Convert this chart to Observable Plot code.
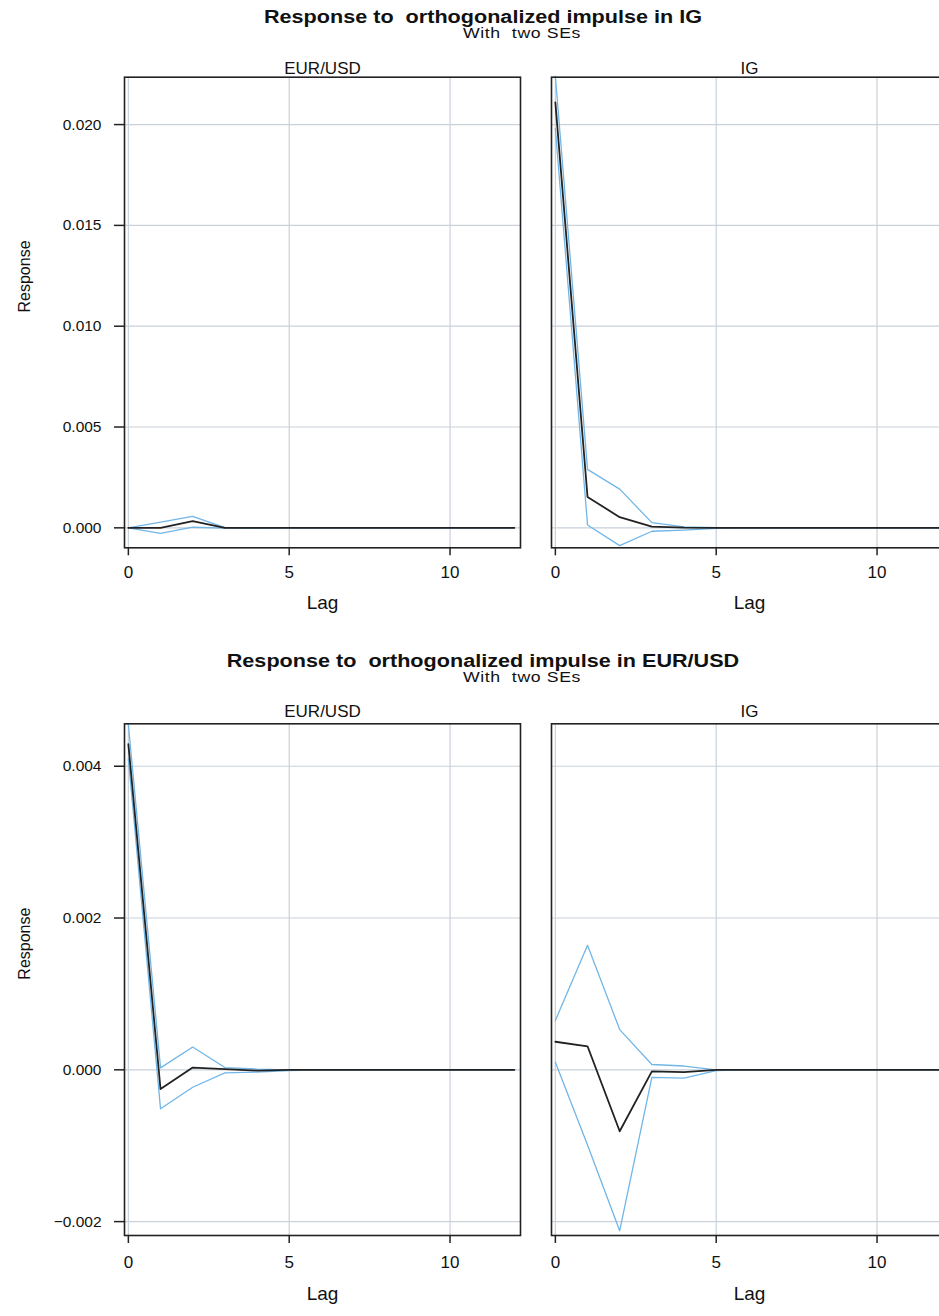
<!DOCTYPE html>
<html><head><meta charset="utf-8">
<script src="https://cdn.jsdelivr.net/npm/d3@7"></script>
<script src="https://cdn.jsdelivr.net/npm/@observablehq/plot@0.6"></script>
<style>
html,body{margin:0;padding:0;background:#fff;overflow:hidden;width:939px;height:1316px;}
#root{position:relative;width:939px;height:1316px;overflow:hidden;font-family:"Liberation Sans",Arial,sans-serif;color:#111;}
.title{position:absolute;left:0;text-align:center;font-weight:bold;font-size:18px;line-height:14px;white-space:pre;transform:scaleX(1.2);transform-origin:center;}
.sub{position:absolute;left:0;text-align:center;font-size:14.5px;line-height:11px;letter-spacing:0.5px;white-space:pre;transform:scaleX(1.22);transform-origin:center;}
.chart{position:absolute;left:0;max-width:none !important;}
</style></head>
<body><div id="root"></div>
<script>
const lags = [0,1,2,3,4,5,6,7,8,9,10,11,12];
const panels = ["EUR/USD","IG"];

// Impulse in IG
const igToEurIrf = [0, 0.00000, 0.00033, 0.00000, 0, 0, 0, 0, 0, 0, 0, 0, 0];
const igToEurLo  = [0, -0.00027, 0.00003, -0.00001, -0.00002, 0, 0, 0, 0, 0, 0, 0, 0];
const igToEurHi  = [0, 0.00028, 0.00057, 0.00001, 0.00000, 0, 0, 0, 0, 0, 0, 0, 0];
const igToIgIrf  = [0.0211, 0.00153, 0.00053, 0.00006, 0.00001, 0, 0, 0, 0, 0, 0, 0, 0];
const igToIgLo   = [0.0198, 0.00014, -0.00088, -0.00017, -0.00011, -0.00002, 0, 0, 0, 0, 0, 0, 0];
const igToIgHi   = [0.0224, 0.0029, 0.00192, 0.00026, 0.00005, 0.00001, 0, 0, 0, 0, 0, 0, 0];

// Impulse in EUR/USD
const eurToEurIrf = [0.00429, -0.000254, 0.00003, 0.00001, -0.00001, 0, 0, 0, 0, 0, 0, 0, 0];
const eurToEurLo  = [0.0041, -0.000513, -0.00023, -0.00004, -0.00003, -0.00001, 0, 0, 0, 0, 0, 0, 0];
const eurToEurHi  = [0.00455, 0.000026, 0.0003, 0.00003, 0.00001, 0, 0, 0, 0, 0, 0, 0, 0];
const eurToIgIrf  = [0.00037, 0.00031, -0.00081, -0.00002, -0.00003, 0, 0, 0, 0, 0, 0, 0, 0];
const eurToIgLo   = [0.0001, -0.00099, -0.00212, -0.0001, -0.00011, -0.00001, 0, 0, 0, 0, 0, 0, 0];
const eurToIgHi   = [0.00065, 0.00164, 0.00053, 0.00007, 0.00005, 0, 0, 0, 0, 0, 0, 0, 0];

const topYTicks = [0, 0.005, 0.010, 0.015, 0.020];
const botYTicks = [-0.002, 0, 0.002, 0.004];
const xTicks = [0, 5, 10];

const blue = "#71b6e7";
const gridColor = "#c9d1da";
const ink = "#222";

function rows(panel, irf, lo, hi) {
  return lags.map((lag, i) => ({panel, lag, irf: irf[i], lo: lo[i], hi: hi[i]}));
}

function block(o) {
  return Plot.plot({
    width: 950, height: o.height,
    marginLeft: 123.5, marginRight: 3.5, marginTop: o.marginTop, marginBottom: o.marginBottom,
    style: {fontFamily: "'Liberation Sans', Arial, sans-serif", background: "transparent", color: "#111", overflow: "visible", maxWidth: "none"},
    fx: {domain: panels, paddingInner: 0.0726, paddingOuter: 0, axis: null, label: null},
    x: {domain: [-0.12, 12.19]},
    y: {domain: o.yDomain},
    marks: [
      Plot.gridX(xTicks, {stroke: gridColor, strokeOpacity: 1, strokeWidth: 1.2}),
      Plot.gridY(o.yTicks, {stroke: gridColor, strokeOpacity: 1, strokeWidth: 1.2}),
      Plot.lineY(o.data, {fx: "panel", x: "lag", y: "hi", stroke: blue, strokeWidth: 1.3}),
      Plot.lineY(o.data, {fx: "panel", x: "lag", y: "lo", stroke: blue, strokeWidth: 1.3}),
      Plot.lineY(o.data, {fx: "panel", x: "lag", y: "irf", stroke: ink, strokeWidth: 1.8}),
      Plot.frame({stroke: ink, strokeWidth: 1.6}),
      Plot.axisX(xTicks, {tickSize: 8, tickPadding: o.xPad, fontSize: 17, label: null, stroke: ink, strokeWidth: 1.5}),
      Plot.axisY(o.yTicks, {tickSize: 10, tickPadding: 13, fontSize: 15.5, label: null, tickFormat: d3.format(".3f"), stroke: ink, strokeWidth: 1.5}),
      Plot.text(panels, {fx: d => d, text: d => d, frameAnchor: "top", lineAnchor: "middle", dy: o.facetDy, fontSize: 17, fill: "#111"}),
      Plot.text(panels, {fx: d => d, text: () => "Lag", frameAnchor: "bottom", lineAnchor: "middle", dy: o.lagDy, fontSize: 19, fill: "#111"}),
      Plot.text(["EUR/USD"], {fx: d => d, text: () => "Response", frameAnchor: "left", lineAnchor: "middle", dx: -99.5, rotate: -90, fontSize: 16, fill: "#111"})
    ]
  });
}

const root = document.getElementById("root");
function addText(cls, text, cx, cy) {
  const d = document.createElement("div");
  d.className = cls;
  d.textContent = text;
  d.style.width = (2 * cx) + "px";
  d.style.top = (cy - (cls === "title" ? 7 : 5.5)) + "px";
  root.appendChild(d);
}

addText("title", "Response to  orthogonalized impulse in IG", 483, 17);
addText("sub", "With  two SEs", 522, 33);
addText("title", "Response to  orthogonalized impulse in EUR/USD", 483, 661);
addText("sub", "With  two SEs", 522, 677);

const topChart = block({
  data: [...rows("EUR/USD", igToEurIrf, igToEurLo, igToEurHi), ...rows("IG", igToIgIrf, igToIgLo, igToIgHi)],
  yDomain: [-0.00099, 0.02235], yTicks: topYTicks,
  height: 580, marginTop: 36.7, marginBottom: 72.7, facetDy: -8.7, lagDy: 55, xPad: 10
});
topChart.classList.add("chart");
topChart.style.top = "40px";
root.appendChild(topChart);

const botChart = block({
  data: [...rows("EUR/USD", eurToEurIrf, eurToEurLo, eurToEurHi), ...rows("IG", eurToIgIrf, eurToIgLo, eurToIgHi)],
  yDomain: [-0.002183, 0.004559], yTicks: botYTicks,
  height: 626, marginTop: 33.3, marginBottom: 81, facetDy: -12, lagDy: 58, xPad: 12
});
botChart.classList.add("chart");
botChart.style.top = "690px";
root.appendChild(botChart);
</script>
</body></html>
